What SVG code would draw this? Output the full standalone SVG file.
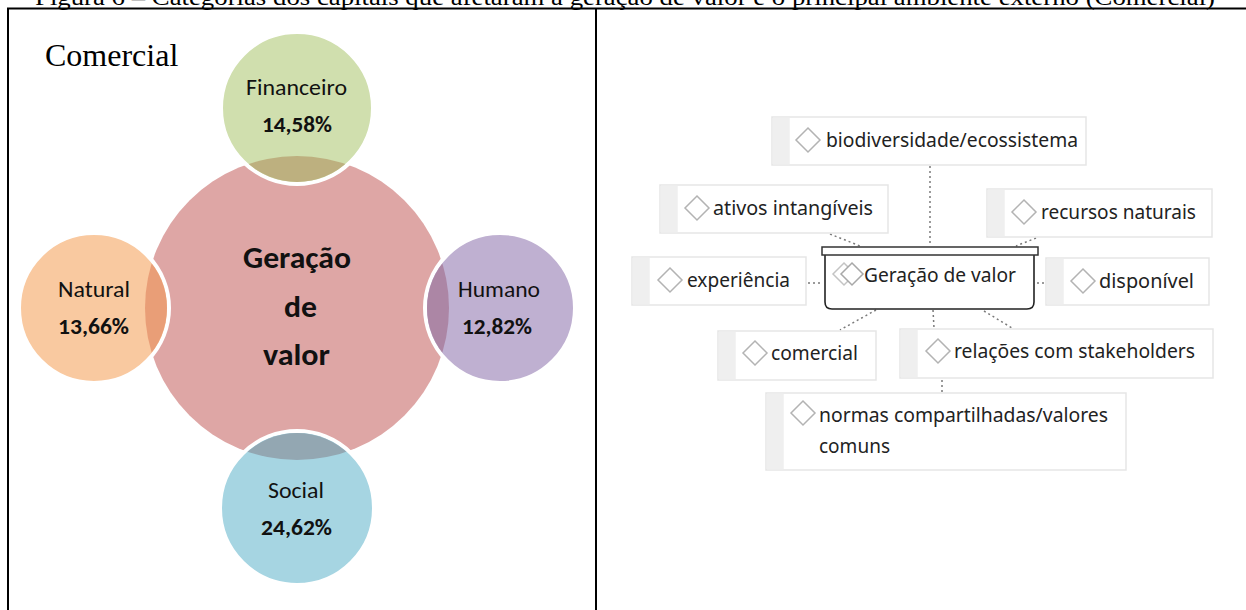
<svg xmlns="http://www.w3.org/2000/svg" width="1246" height="610" viewBox="0 0 1246 610">
<style>
.frame{stroke:#000;stroke-width:2;fill:none}
.cap{font-family:"Liberation Serif",serif;font-size:24px;fill:#000}
.lbl{font-family:Carlito,Lato,sans-serif;font-size:22px;fill:#111}
.pct{font-family:Carlito,Lato,sans-serif;font-size:22px;font-weight:bold;fill:#111}
.big{font-family:Carlito,Lato,sans-serif;font-size:31px;font-weight:bold;fill:#111}
.sat{stroke:#fff;stroke-width:4}
.box{fill:#fff;stroke:#e6e6e6;stroke-width:1.5}
.strip{fill:#efefef}
.dia{fill:#fff;stroke:#b3b3b3;stroke-width:1.5}
.nt{font-family:"Noto Sans","DejaVu Sans",sans-serif;font-size:20px;fill:#222}
.con{stroke:#7a7a7a;stroke-width:1.5;stroke-dasharray:2 3;fill:none}
</style>
<defs>
<clipPath id="cFin"><circle cx="297" cy="108" r="74"/></clipPath>
<clipPath id="cNat"><circle cx="94" cy="308" r="73"/></clipPath>
<clipPath id="cHum"><circle cx="500" cy="308" r="73"/></clipPath>
<clipPath id="cSoc"><circle cx="297" cy="508" r="75"/></clipPath>
</defs>
<rect width="1246" height="610" fill="#fff"/>
<text class="cap" x="35" y="5" textLength="1180" lengthAdjust="spacingAndGlyphs">Figura 6 – Categorias dos capitais que afetaram a geração de valor e o principal ambiente externo (Comercial)</text>
<g id="frame">
<line class="frame" x1="7" y1="8.5" x2="1246" y2="8.5"/>
<line class="frame" x1="8" y1="8" x2="8" y2="610"/>
<line class="frame" x1="596" y1="8" x2="596" y2="610"/>
</g>
<text x="45" y="66" font-family="Liberation Serif,serif" font-size="32" fill="#000">Comercial</text>

<g id="geracao">
<circle cx="297" cy="308" r="152" fill="#dea6a5"/>
</g>
<g id="financeiro">
<circle class="sat" cx="297" cy="108" r="76" fill="#d0dfae"/>
<circle cx="297" cy="308" r="152" fill="#bdb07f" clip-path="url(#cFin)"/>
<text class="lbl" x="246" y="95" textLength="101" lengthAdjust="spacingAndGlyphs">Financeiro</text>
<text class="pct" x="262" y="132" textLength="70" lengthAdjust="spacingAndGlyphs">14,58%</text>
</g>
<g id="natural">
<circle class="sat" cx="94" cy="308" r="75" fill="#f9c9a0"/>
<circle cx="297" cy="308" r="152" fill="#e99e77" clip-path="url(#cNat)"/>
<text class="lbl" x="58" y="297" textLength="72" lengthAdjust="spacingAndGlyphs">Natural</text>
<text class="pct" x="58" y="334" textLength="71" lengthAdjust="spacingAndGlyphs">13,66%</text>
</g>
<g id="humano">
<circle class="sat" cx="500" cy="308" r="75" fill="#bfb0d1"/>
<circle cx="297" cy="308" r="152" fill="#ac86a5" clip-path="url(#cHum)"/>
<text class="lbl" x="458" y="297" textLength="82" lengthAdjust="spacingAndGlyphs">Humano</text>
<text class="pct" x="462" y="334" textLength="70" lengthAdjust="spacingAndGlyphs">12,82%</text>
</g>
<g id="social">
<circle class="sat" cx="297" cy="508" r="77" fill="#a6d5e2"/>
<circle cx="297" cy="308" r="152" fill="#93a7b2" clip-path="url(#cSoc)"/>
<text class="lbl" x="268" y="498" textLength="56" lengthAdjust="spacingAndGlyphs">Social</text>
<text class="pct" x="261" y="535" textLength="71" lengthAdjust="spacingAndGlyphs">24,62%</text>
</g>
<g id="geracao-label">
<text class="big" x="243" y="268" textLength="108" lengthAdjust="spacingAndGlyphs">Geração</text>
<text class="big" x="284" y="317" textLength="33" lengthAdjust="spacingAndGlyphs">de</text>
<text class="big" x="263" y="365" textLength="67" lengthAdjust="spacingAndGlyphs">valor</text>
</g>

<g id="connectors">
<line class="con" x1="930" y1="166" x2="930" y2="246"/>
<line class="con" x1="830" y1="234" x2="860" y2="246"/>
<line class="con" x1="1036" y1="238" x2="1016" y2="246"/>
<line class="con" x1="808" y1="283" x2="822" y2="283"/>
<line class="con" x1="1037" y1="283" x2="1046" y2="283"/>
<line class="con" x1="876" y1="310" x2="840" y2="330"/>
<line class="con" x1="933" y1="310" x2="934" y2="328"/>
<line class="con" x1="984" y1="311" x2="1012" y2="328"/>
<line class="con" x1="942" y1="380" x2="942" y2="392"/>
</g>

<g id="n-bio">
<rect class="box" x="772" y="117" width="314" height="48"/>
<rect class="strip" x="772.75" y="117.75" width="17" height="46.5"/>
<path class="dia" d="M808 128 L820 140 L808 152 L796 140 Z"/>
<text class="nt" x="826" y="147" textLength="252" lengthAdjust="spacingAndGlyphs">biodiversidade/ecossistema</text>
</g>
<g id="n-ativos">
<rect class="box" x="660" y="185" width="228" height="48"/>
<rect class="strip" x="660.75" y="185.75" width="17" height="46.5"/>
<path class="dia" d="M697 196 L709 208 L697 220 L685 208 Z"/>
<text class="nt" x="713" y="215" textLength="160" lengthAdjust="spacingAndGlyphs">ativos intangíveis</text>
</g>
<g id="n-recursos">
<rect class="box" x="987" y="189" width="225" height="48"/>
<rect class="strip" x="987.75" y="189.75" width="17" height="46.5"/>
<path class="dia" d="M1024 200 L1036 212 L1024 224 L1012 212 Z"/>
<text class="nt" x="1041" y="219" textLength="155" lengthAdjust="spacingAndGlyphs">recursos naturais</text>
</g>
<g id="n-experiencia">
<rect class="box" x="632" y="257" width="174" height="48"/>
<rect class="strip" x="632.75" y="257.75" width="17" height="46.5"/>
<path class="dia" d="M670 268 L682 280 L670 292 L658 280 Z"/>
<text class="nt" x="687" y="287" textLength="103" lengthAdjust="spacingAndGlyphs">experiência</text>
</g>
<g id="n-disponivel">
<rect class="box" x="1046" y="258" width="163" height="47"/>
<rect class="strip" x="1046.75" y="258.75" width="17" height="45.5"/>
<path class="dia" d="M1083 269 L1095 281 L1083 293 L1071 281 Z"/>
<text class="nt" x="1099" y="288" textLength="95" lengthAdjust="spacingAndGlyphs">disponível</text>
</g>
<g id="n-geracao">
<path d="M825 255 V302 Q825 309 832 309 H1027 Q1034 309 1034 302 V255" fill="#fff" stroke="#222" stroke-width="1.6"/>
<rect x="822" y="247" width="216" height="8" fill="#fff" stroke="#333" stroke-width="1.5"/>
<path d="M844 263 L855 274 L844 285 L833 274 Z" fill="none" stroke="#c4c4c4" stroke-width="1.5"/>
<path d="M852 263 L863 274 L852 285 L841 274 Z" fill="#fff" stroke="#a8a8a8" stroke-width="1.5"/>
<text class="nt" x="864" y="282" textLength="152" lengthAdjust="spacingAndGlyphs">Geração de valor</text>
</g>
<g id="n-comercial">
<rect class="box" x="718" y="331" width="158" height="49"/>
<rect class="strip" x="718.75" y="331.75" width="17" height="47.5"/>
<path class="dia" d="M755 341 L767 353 L755 365 L743 353 Z"/>
<text class="nt" x="771" y="360" textLength="87" lengthAdjust="spacingAndGlyphs">comercial</text>
</g>
<g id="n-relacoes">
<rect class="box" x="900" y="329" width="313" height="49"/>
<rect class="strip" x="900.75" y="329.75" width="17" height="47.5"/>
<path class="dia" d="M938 339 L950 351 L938 363 L926 351 Z"/>
<text class="nt" x="954" y="358" textLength="241" lengthAdjust="spacingAndGlyphs">relações com stakeholders</text>
</g>
<g id="n-normas">
<rect class="box" x="766" y="393" width="360" height="77"/>
<rect class="strip" x="766.75" y="393.75" width="17" height="75.5"/>
<path class="dia" d="M803 401 L815 413 L803 425 L791 413 Z"/>
<text class="nt" x="819" y="422" textLength="289" lengthAdjust="spacingAndGlyphs">normas compartilhadas/valores</text>
<text class="nt" x="819" y="453" textLength="71" lengthAdjust="spacingAndGlyphs">comuns</text>
</g>
</svg>
